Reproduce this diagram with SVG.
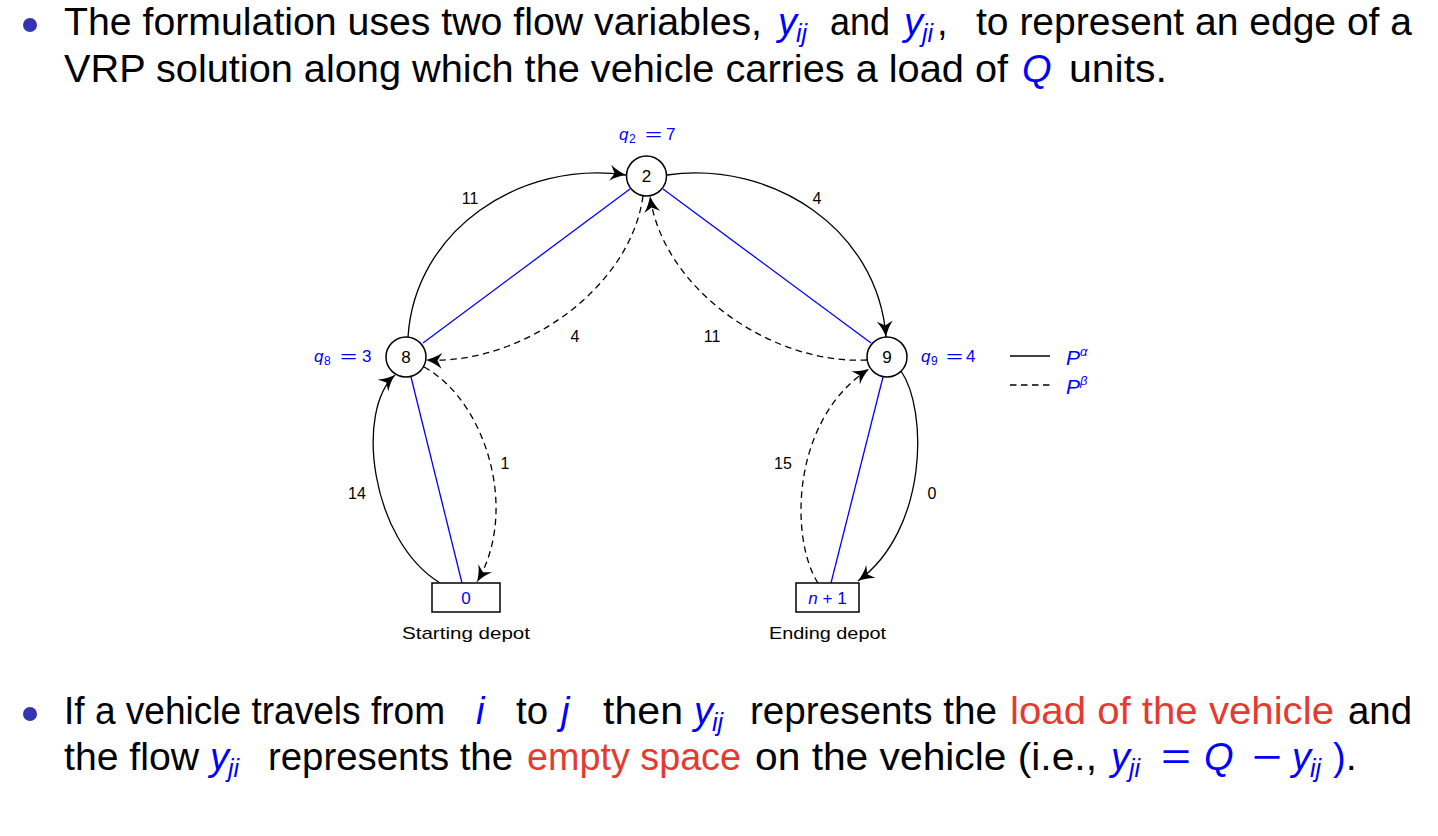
<svg xmlns="http://www.w3.org/2000/svg" width="1438" height="836" viewBox="0 0 1438 836">
<style>
.t{font-family:"Liberation Sans",Arial,sans-serif;font-size:38px;fill:#000}
.m{font-family:"Liberation Sans",Arial,sans-serif;font-size:38px;font-style:italic;fill:#0000FF}
.s{font-family:"Liberation Sans",Arial,sans-serif;font-size:25px;font-style:italic;fill:#0000FF}
.r{fill:#E53A2F}
.b{fill:#0000FF}
.lbl{font-family:"Liberation Sans",Arial,sans-serif;font-size:16px;fill:#000;text-anchor:middle}
.q{font-family:"Liberation Sans",Arial,sans-serif;font-size:17px;fill:#0000FF}
.qi{font-style:italic}
.qs{font-size:12px}
.node circle{fill:#fff;stroke:#000;stroke-width:1.5}
.node rect{fill:#fff;stroke:#000;stroke-width:1.5}
.nt{font-family:"Liberation Sans",Arial,sans-serif;font-size:17px;text-anchor:middle;fill:#000}
.e{fill:none;stroke:#000;stroke-width:1.3;marker-end:url(#arr)}
.d{stroke-dasharray:6.5 4.5}
.bl{fill:none;stroke:#0000FF;stroke-width:1.3}
.bul{fill:#3333B3}
</style>
<defs>
<marker id="arr" markerUnits="userSpaceOnUse" viewBox="-17 -9 18 18" markerWidth="18" markerHeight="18" refX="0" refY="0" orient="auto">
<path d="M0,0 C-5,-1.5 -11,-4 -16,-8 L-11.5,0 L-16,8 C-11,4 -5,1.5 0,0 z" fill="#000"/>
</marker>
</defs>

<g id="text-top">
<circle class="bul" cx="30" cy="25" r="7"/>
<text class="t" x="64" y="35" textLength="698" lengthAdjust="spacingAndGlyphs">The formulation uses two flow variables,</text>
<text class="m" x="778" y="35">y</text><text class="s" x="796" y="42">ij</text>
<text class="t" x="830" y="35" textLength="60" lengthAdjust="spacingAndGlyphs">and</text>
<text class="m" x="904" y="35">y</text><text class="s" x="922" y="42">ji</text>
<text class="t" x="937" y="35">,</text>
<text class="t" x="976" y="35" textLength="436" lengthAdjust="spacingAndGlyphs">to represent an edge of a</text>
<text class="t" x="64" y="82" textLength="944" lengthAdjust="spacingAndGlyphs">VRP solution along which the vehicle carries a load of</text>
<text class="m" x="1022" y="82">Q</text>
<text class="t" x="1069" y="82" textLength="98" lengthAdjust="spacingAndGlyphs">units.</text>
</g>

<g id="text-bottom">
<circle class="bul" cx="30" cy="714" r="7"/>
<text class="t" x="64" y="724" textLength="381" lengthAdjust="spacingAndGlyphs">If a vehicle travels from</text>
<text class="m" x="476" y="724">i</text>
<text class="t" x="516" y="724" textLength="32" lengthAdjust="spacingAndGlyphs">to</text>
<text class="m" x="561" y="724">j</text>
<text class="t" x="603" y="724" textLength="80" lengthAdjust="spacingAndGlyphs">then</text>
<text class="m" x="694" y="724">y</text><text class="s" x="712" y="731">ij</text>
<text class="t" x="750" y="724" textLength="247" lengthAdjust="spacingAndGlyphs">represents the</text>
<text class="t r" x="1010" y="724" textLength="324" lengthAdjust="spacingAndGlyphs">load of the vehicle</text>
<text class="t" x="1348" y="724" textLength="64" lengthAdjust="spacingAndGlyphs">and</text>
<text class="t" x="64" y="770" textLength="135" lengthAdjust="spacingAndGlyphs">the flow</text>
<text class="m" x="210" y="770">y</text><text class="s" x="228" y="777">ji</text>
<text class="t" x="268" y="770" textLength="245" lengthAdjust="spacingAndGlyphs">represents the</text>
<text class="t r" x="527" y="770" textLength="214" lengthAdjust="spacingAndGlyphs">empty space</text>
<text class="t" x="755" y="770" textLength="342" lengthAdjust="spacingAndGlyphs">on the vehicle (i.e.,</text>
<text class="m" x="1111" y="770">y</text><text class="s" x="1129" y="777">ji</text>
<text class="t b" x="1161" y="770" textLength="30" lengthAdjust="spacingAndGlyphs">=</text>
<text class="m" x="1204" y="770">Q</text>
<text class="t b" x="1252" y="770" textLength="30" lengthAdjust="spacingAndGlyphs">−</text>
<text class="m" x="1292" y="770">y</text><text class="s" x="1310" y="777">ij</text>
<text class="t b" x="1333" y="770">)</text>
<text class="t" x="1346" y="770">.</text>
</g>

<g id="connectors">
<line class="bl" x1="423" y1="343" x2="630" y2="189"/>
<line class="bl" x1="663" y1="189" x2="871" y2="343"/>
<line class="bl" x1="411" y1="377" x2="462" y2="583"/>
<line class="bl" x1="883" y1="377" x2="831" y2="583"/>
<path class="e" d="M408,337 C415,230 520,160 626,175"/>
<path class="e" d="M667,175 C773,160 878,230 886,337"/>
<path class="e d" d="M643,196 C630,290 520,365 426,360"/>
<path class="e d" d="M867,360 C773,365 663,290 650,196"/>
<path class="e" d="M440,583 C370,540 355,410 395,375"/>
<path class="e d" d="M424,367 C485,400 520,510 477,582"/>
<path class="e" d="M901,371 C928,410 928,530 858,581"/>
<path class="e d" d="M818,583 C790,540 790,420 869,369"/>
</g>

<g id="edge-labels">
<text class="lbl" x="470" y="204">11</text>
<text class="lbl" x="817" y="204">4</text>
<text class="lbl" x="575" y="342">4</text>
<text class="lbl" x="712" y="342">11</text>
<text class="lbl" x="357" y="499">14</text>
<text class="lbl" x="505" y="469">1</text>
<text class="lbl" x="783" y="469">15</text>
<text class="lbl" x="932" y="499">0</text>
</g>

<g id="node-2" class="node">
<circle cx="646.5" cy="176" r="20"/>
<text class="nt" x="646.5" y="182">2</text>
<text class="q" y="140"><tspan class="qi" x="619">q</tspan><tspan class="qs" x="629" y="143">2</tspan><tspan x="666" y="140">7</tspan></text>
<text class="q" x="645" y="140" textLength="17" lengthAdjust="spacingAndGlyphs">=</text>
</g>
<g id="node-8" class="node">
<circle cx="406" cy="357" r="20"/>
<text class="nt" x="406" y="363">8</text>
<text class="q" y="362"><tspan class="qi" x="314">q</tspan><tspan class="qs" x="324" y="365">8</tspan><tspan x="362" y="362">3</tspan></text>
<text class="q" x="340" y="362" textLength="17" lengthAdjust="spacingAndGlyphs">=</text>
</g>
<g id="node-9" class="node">
<circle cx="887" cy="357" r="20"/>
<text class="nt" x="887" y="363">9</text>
<text class="q" y="362"><tspan class="qi" x="921">q</tspan><tspan class="qs" x="931" y="365">9</tspan><tspan x="966" y="362">4</tspan></text>
<text class="q" x="946" y="362" textLength="17" lengthAdjust="spacingAndGlyphs">=</text>
</g>
<g id="node-0" class="node">
<rect x="432" y="583" width="68" height="29"/>
<text class="nt" x="466" y="604" style="fill:#0000FF">0</text>
<text class="nt" x="466" y="639" textLength="128" lengthAdjust="spacingAndGlyphs">Starting depot</text>
</g>
<g id="node-n1" class="node">
<rect x="796" y="583" width="63" height="29"/>
<text class="nt" x="827.5" y="604" style="fill:#0000FF"><tspan font-style="italic">n</tspan> + 1</text>
<text class="nt" x="827.5" y="639" textLength="117" lengthAdjust="spacingAndGlyphs">Ending depot</text>
</g>

<g id="legend">
<line x1="1010" y1="356" x2="1050" y2="356" stroke="#000" stroke-width="1.3"/>
<line x1="1010" y1="385" x2="1050" y2="385" stroke="#000" stroke-width="1.3" stroke-dasharray="6.5 4.5"/>
<text class="q" x="1066" y="365" style="font-size:21px"><tspan class="qi">P</tspan><tspan class="qi" style="font-size:13px" dy="-9">α</tspan></text>
<text class="q" x="1066" y="394" style="font-size:21px"><tspan class="qi">P</tspan><tspan class="qi" style="font-size:13px" dy="-9">β</tspan></text>
</g>
</svg>
